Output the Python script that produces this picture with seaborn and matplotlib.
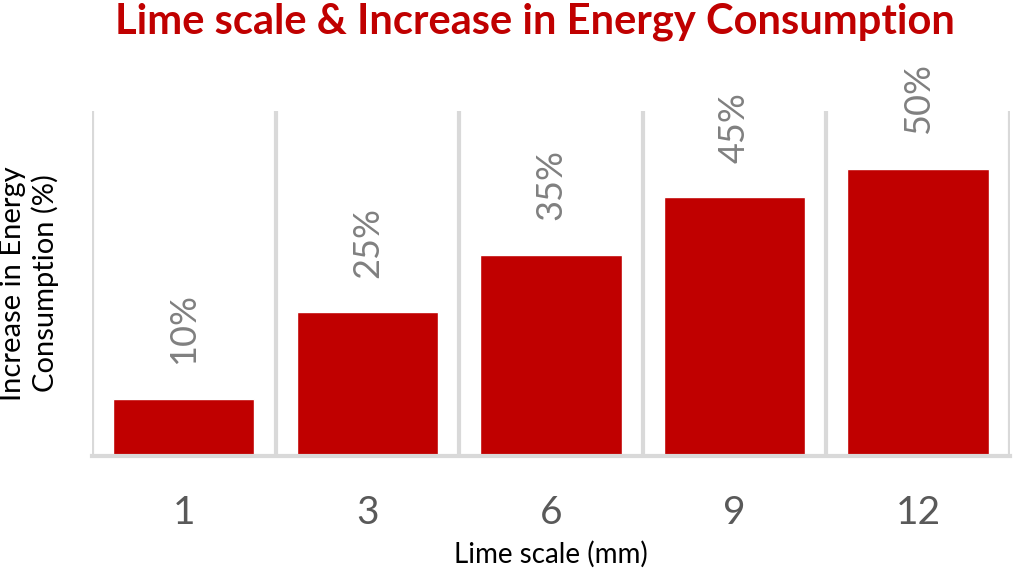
import matplotlib.pyplot as plt
import seaborn as sns
import pandas as pd
import numpy as np

# data
lime_scale = ['1', '3', '6', '9', '12']
increase = [10, 25, 35, 45, 50]
bar_labels = ['10%', '25%', '35%', '45%', '50%']

df = pd.DataFrame({'Lime scale': lime_scale, 'Increase': increase})

sns.set_style('white')
plt.rcParams['font.family'] = ['Lato', 'DejaVu Sans']

fig = plt.figure(figsize=(10.24, 5.71), dpi=100)
ax = fig.add_axes([0.0898, 0.2014, 0.8965, 0.6042])

sns.barplot(data=df, x='Lime scale', y='Increase', color='#C00000',
            width=0.77, saturation=1, ax=ax)

ax.set_ylim(0, 60)
ax.set_xlim(-0.5, 4.5)
ax.set_yticks([])

# vertical separators between categories
ax.set_xticks(np.arange(-0.5, 5, 1), minor=True)
ax.grid(True, which='minor', axis='x', color='#D9D9D9', linewidth=3)
ax.grid(False, which='major')
ax.set_axisbelow(True)
ax.tick_params(axis='x', which='both', length=0)
ax.tick_params(axis='x', which='major', labelsize=28, labelcolor='#595959', pad=28)

for s in ['top', 'right', 'left']:
    ax.spines[s].set_visible(False)
ax.spines['bottom'].set_color('#D9D9D9')
ax.spines['bottom'].set_linewidth(3)

for i, v in enumerate(increase):
    ax.text(i, v + 6, bar_labels[i], rotation=90, ha='center', va='bottom',
            fontsize=26, color='#808080')

ax.set_xlabel('Lime scale (mm)', fontsize=20, color='black', labelpad=7)
ax.set_ylabel('Increase in Energy\nConsumption (%)', fontsize=21, color='black',
              labelpad=24, linespacing=1.2)

fig.suptitle('Lime scale & Increase in Energy Consumption', fontsize=30,
             fontweight='bold', color='#C00000', x=0.522, y=0.995)

fig.savefig('out.png', dpi=100)
